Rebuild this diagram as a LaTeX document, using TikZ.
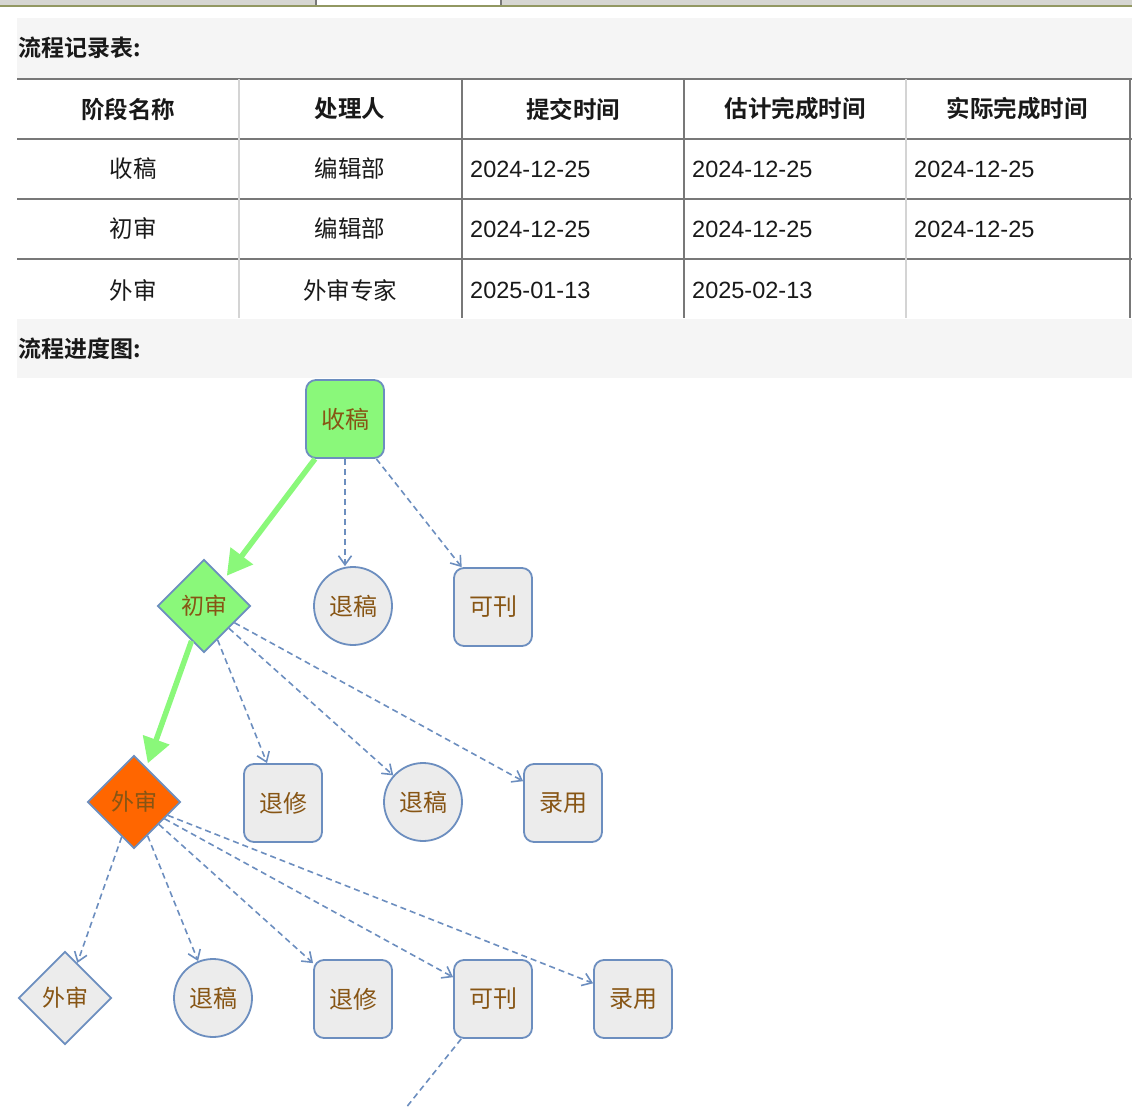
\documentclass[tikz,border=0pt]{standalone}
\usepackage{fontspec}
\setmainfont{Liberation Sans}
\newfontfamily\cjk{Noto Sans CJK SC}[BoldFont={Noto Sans CJK SC Bold}]
\usetikzlibrary{shapes.geometric,arrows.meta}

\definecolor{cLine}{RGB}{108,142,191}
\definecolor{cFill}{RGB}{236,236,236}
\definecolor{cPass}{RGB}{138,248,122}
\definecolor{cNow}{RGB}{255,102,0}
\definecolor{cLabel}{RGB}{135,85,20}
\definecolor{cBand}{RGB}{245,245,245}
\definecolor{cRule}{RGB}{120,120,120}
\definecolor{cRuleLight}{RGB}{212,212,212}
\definecolor{cTabGray}{RGB}{214,214,210}
\definecolor{cTabLine}{RGB}{146,152,98}

\tikzstyle{bandtitle}=[anchor=west,inner sep=0pt,text=black!90,font=\cjk\bfseries\fontsize{23}{26}\selectfont]
\tikzstyle{headcell}=[inner sep=0pt,text=black!90,font=\cjk\bfseries\fontsize{23.5}{26}\selectfont]
\tikzstyle{namecell}=[inner sep=0pt,text=black!90,font=\cjk\fontsize{23.5}{26}\selectfont]
\tikzstyle{datecell}=[anchor=west,inner sep=0pt,text=black!90,font=\fontsize{23.5}{26}\selectfont]
\tikzstyle{rowrule}=[draw=cRule,line width=2pt]
\tikzstyle{colrule}=[draw=cRule,line width=2.5pt]
\tikzstyle{colrulelight}=[draw=cRuleLight,line width=2.5pt]

\tikzstyle{stagebox}=[rectangle,rounded corners=10pt,draw=cLine,line width=1.8pt,fill=cFill,minimum width=78pt,minimum height=78pt,text=cLabel,font=\cjk\fontsize{24}{26}\selectfont]
\tikzstyle{stagecircle}=[circle,draw=cLine,line width=1.8pt,fill=cFill,minimum size=78pt,text=cLabel,font=\cjk\fontsize{24}{26}\selectfont]
\tikzstyle{stagediamond}=[diamond,draw=cLine,line width=1.8pt,fill=cFill,minimum width=93pt,minimum height=93pt,inner sep=0pt,text=cLabel,font=\cjk\fontsize{23}{26}\selectfont]
\tikzstyle{donefill}=[fill=cPass]
\tikzstyle{nowfill}=[fill=cNow]
\tikzstyle{passed}=[draw=cPass,line width=5.5pt,-{Triangle[length=25pt,width=27pt]},shorten >=4pt]
\tikzstyle{choice}=[draw=cLine,line width=1.6pt,dash pattern=on 6pt off 4pt,-{Straight Barb[length=9pt,width=13pt]}]

\begin{document}
\begin{tikzpicture}[x=1pt,y=-1pt]
	\useasboundingbox (0,0) rectangle (1132,1107);

	% tab strip
	\fill [cTabGray] (0,0) rectangle (1132,6);
	\fill [white] (316,0) rectangle (501,5);
	\draw [cRule,line width=1.5pt] (316,0) -- (316,5) (501,0) -- (501,5);
	\draw [cTabLine,line width=2pt] (0,6.5) -- (1132,6.5);

	% record table
	\fill [cBand] (17,18) rectangle (1132,78);
	\node (title1) at (18,48) [bandtitle] {流程记录表:};

	\draw [rowrule] (17,79) -- (1132,79);
	\draw [rowrule] (17,139) -- (1132,139);
	\draw [rowrule] (17,199) -- (1132,199);
	\draw [rowrule] (17,259) -- (1132,259);
	\draw [colrulelight] (239,79) -- (239,318);
	\draw [colrule] (462,79) -- (462,318);
	\draw [colrule] (684,79) -- (684,318);
	\draw [colrulelight] (906,79) -- (906,318);
	\draw [colrule] (1130,79) -- (1130,318);

	\node (H1) at (128,109) [headcell] {阶段名称};
	\node (H2) at (350,109) [headcell] {处理人};
	\node (H3) at (573,109) [headcell] {提交时间};
	\node (H4) at (795,109) [headcell] {估计完成时间};
	\node (H5) at (1017,109) [headcell] {实际完成时间};

	\node (R1a) at (133,169) [namecell] {收稿};
	\node (R1b) at (350,169) [namecell] {编辑部};
	\node (R1c) at (470,169) [datecell] {2024-12-25};
	\node (R1d) at (692,169) [datecell] {2024-12-25};
	\node (R1e) at (914,169) [datecell] {2024-12-25};

	\node (R2a) at (133,229) [namecell] {初审};
	\node (R2b) at (350,229) [namecell] {编辑部};
	\node (R2c) at (470,229) [datecell] {2024-12-25};
	\node (R2d) at (692,229) [datecell] {2024-12-25};
	\node (R2e) at (914,229) [datecell] {2024-12-25};

	\node (R3a) at (133,290) [namecell] {外审};
	\node (R3b) at (350,290) [namecell] {外审专家};
	\node (R3c) at (470,290) [datecell] {2025-01-13};
	\node (R3d) at (692,290) [datecell] {2025-02-13};

	% progress chart
	\fill [cBand] (17,319) rectangle (1132,378);
	\node (title2) at (18,349) [bandtitle] {流程进度图:};

		\node (shougao) at (345,419) [stagebox,donefill] {收稿};

		\node (chushen) at (204,606) [stagediamond,donefill] {初审};
		\node (tuigaoA) at (353,606) [stagecircle] {退稿};
		\node (kekanA) at (493,607) [stagebox] {可刊};

		\node (waishen) at (134,802) [stagediamond,nowfill] {外审};
		\node (tuixiuA) at (283,803) [stagebox] {退修};
		\node (tuigaoB) at (423,802) [stagecircle] {退稿};
		\node (luyongA) at (563,803) [stagebox] {录用};

		\node (waishenB) at (65,998) [stagediamond] {外审};
		\node (tuigaoC) at (213,998) [stagecircle] {退稿};
		\node (tuixiuB) at (353,999) [stagebox] {退修};
		\node (kekanB) at (493,999) [stagebox] {可刊};
		\node (luyongB) at (633,999) [stagebox] {录用};

		\coordinate (nextstep) at (333,1199);

	\draw [passed] (shougao) to (chushen);
	\draw [choice] (shougao) to (shougao |- tuigaoA.north);
	\draw [choice] (shougao) to (kekanA);

	\draw [passed] (chushen) to (waishen);
	\draw [choice] (chushen) to (tuixiuA);
	\draw [choice] (chushen) to (tuigaoB);
	\draw [choice] (chushen) to (luyongA);

	\draw [choice] (waishen) to (waishenB);
	\draw [choice] (waishen) to (tuigaoC);
	\draw [choice] (waishen) to (tuixiuB);
	\draw [choice] (waishen) to (kekanB);
	\draw [choice] (waishen) to (luyongB);

	\draw [choice,-] (kekanB) to (nextstep);

\end{tikzpicture}
\end{document}
